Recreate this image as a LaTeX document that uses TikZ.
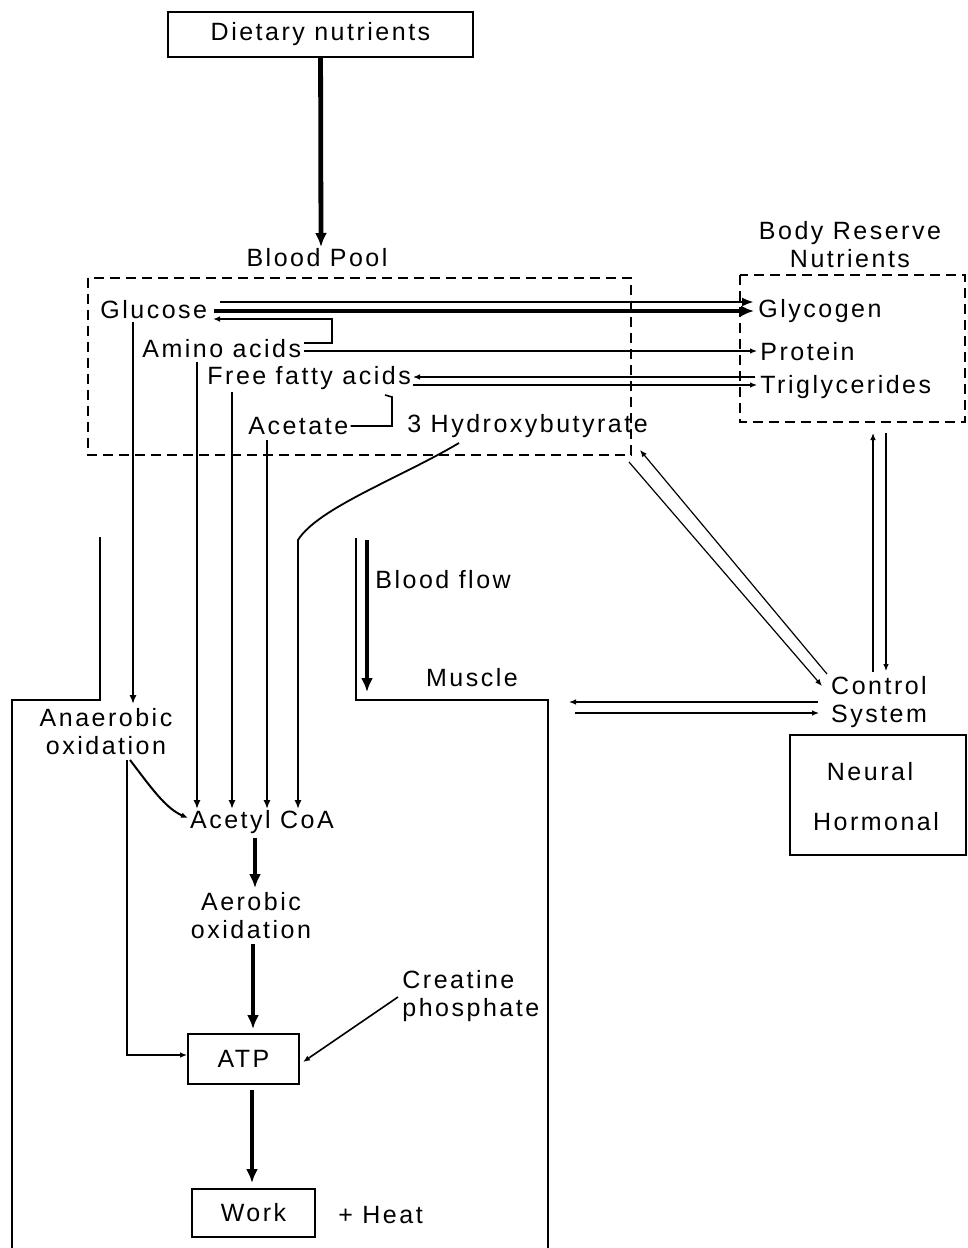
\documentclass[tikz,border=0pt]{standalone}
\usepackage{fontspec}
\setmainfont{Liberation Sans}[LetterSpace=10]
\usetikzlibrary{arrows.meta,positioning,calc}

\begin{document}
\begin{tikzpicture}[
  x=0.5pt, y=-0.5pt,
  heavy/.style={-{Latex[length=7pt,width=6pt]}, line width=2.4pt},
  feed/.style={-{Latex[length=4.5pt,width=3.6pt]}, line width=0.9pt},
  link/.style={-{Latex[length=3.5pt,width=2.8pt]}, line width=0.6pt},
  pool/.style={line width=1.1pt, dash pattern=on 5pt off 3pt},
  wall/.style={line width=0.8pt},
  panel/.style={draw, line width=0.9pt, inner sep=0pt},
  tag/.style={inner sep=1pt},
  every node/.style={font=\fontsize{12.5}{14}\selectfont}]
\useasboundingbox (0,0) rectangle (968,1248);

% ---- the labelled boxes and texts ---------------------------------------
\node[panel, minimum width=152.5pt, minimum height=22.5pt]
  (diet) at (320.5,34.5) {Dietary nutrients};
\node[tag] (poollbl) at (317,258) {Blood Pool};
\node[tag, align=center] (reslbl) at (850,245) {Body Reserve\\Nutrients};
\node[tag, anchor=west] (glucose) at ( 98,310) {Glucose};
\node[tag, anchor=west] (amino)   at (140,349) {Amino acids};
\node[tag, anchor=west] (ffa)     at (205,378) {Free fatty acids};
\node[tag, anchor=west] (acetate) at (246,426) {Acetate};
\node[tag, anchor=west] (hbut)    at (405,426) {3 Hydroxybutyrate};
\node[tag, anchor=west] (glycogen) at (756,311) {Glycogen};
\node[tag, anchor=west] (protein)  at (758,352) {Protein};
\node[tag, anchor=west] (trig)     at (758,387) {Triglycerides};
\node[tag, anchor=west] (flowlbl) at (373,580) {Blood flow};
\node[tag] (muscle) at (472,678) {Muscle};
\node[tag, align=center] (control) at (879,702) {Control\\System};
\node[panel, minimum width=88pt, minimum height=60pt]
  (ctrlbox) at (878,795) {};
\node[tag] (neural)   at (870,772) {Neural};
\node[tag] (hormonal) at (876,822) {Hormonal};
\node[tag, align=center] (anaer) at (106,732) {Anaerobic\\oxidation};
\node[tag] (acoa) at (262,822) {Acetyl CoA};
\node[tag, align=center] (aero) at (251,916) {Aerobic\\oxidation};
\node[panel, minimum width=55.5pt, minimum height=25pt]
  (atp) at (243.5,1059) {ATP};
\node[tag, anchor=west, align=left] (creat) at (400,996)
  {Creatine\\phosphate};
\node[panel, minimum width=61.5pt, minimum height=24pt]
  (work) at (253.5,1213) {Work};
\node[tag, anchor=west] (heat) at (336,1215) {+ Heat};

% ---- ends and bends of the connectors -----------------------------------
\coordinate (poolin) at (321,247);
\coordinate (gA)  at (220,302);  \coordinate (gyA) at (754,302);
\coordinate (gB)  at (214,311);  \coordinate (gyB) at (754,311);
\coordinate (amA) at (304,343);  \coordinate (amB) at (332,343);
\coordinate (amC) at (332,319);  \coordinate (glC) at (213,319);
\coordinate (amP) at (304,351);  \coordinate (prA) at (757,351);
\coordinate (tgA) at (755,377);  \coordinate (faA) at (413,377);
\coordinate (faB) at (413,385);  \coordinate (tgB) at (757,385);
\coordinate (acA) at (392,426);  \coordinate (acB) at (392,397);
\coordinate (acC) at (385,395);
\coordinate (v0a) at (133,322);  \coordinate (v0b) at (133,704);
\coordinate (v1a) at (197,362);  \coordinate (v1b) at (197,809);
\coordinate (v2a) at (232,392);  \coordinate (v2b) at (232,809);
\coordinate (v3a) at (267,440);  \coordinate (v3b) at (267,809);
\coordinate (v4a) at (459,443);  \coordinate (v4k) at (298,540);
\coordinate (v4b) at (298,809);
\coordinate (anA) at (130,760);  \coordinate (anB) at (188,818);
\coordinate (anC) at (127,760);
\coordinate (coA) at (255,838);  \coordinate (coB) at (255,888);
\coordinate (aeA) at (253,944);  \coordinate (aeB) at (253,1029);
\coordinate (crA) at (398,997);  \coordinate (crB) at (303,1062);
\coordinate (atA) at (252,1090); \coordinate (atB) at (252,1183);
\coordinate (rsA) at (873,672);  \coordinate (rsB) at (873,433);
\coordinate (rsC) at (886,433);  \coordinate (rsD) at (886,671);
\coordinate (cpA) at (827,674);  \coordinate (cpB) at (640,450);
\coordinate (cpC) at (629,462);  \coordinate (cpD) at (822,686);
\coordinate (cmA) at (818,702);  \coordinate (cmB) at (569,702);
\coordinate (cmC) at (575,713);  \coordinate (cmD) at (819,713);

% ---- the two pools ------------------------------------------------------
\draw[pool] (88,278) rectangle (631,455);
\draw[pool] (740,275) rectangle (965,422);
\draw[heavy] (diet) -- (poolin);

% ---- exchanges between blood pool and body reserve ----------------------
\draw[-{Latex[length=6pt,width=4.5pt]}, line width=1.2pt] (gA) -- (gyA);
\draw[-{Latex[length=6.5pt,width=5.5pt]}, line width=1.8pt] (gB) -- (gyB);
\draw[link, line width=0.9pt] (amA) -- (amB) -- (amC) -- (glC);
\draw[link] (amP) -- (prA);
\draw[link] (tgA) -- (faA);
\draw[link] (faB) -- (tgB);
\draw[line width=0.8pt] (acetate.east) -- (acA) -- (acB) -- (acC);

% ---- the substrates carried down to the muscle --------------------------
\draw[feed, line width=1.2pt] (v0a) -- (v0b);
\draw[feed] (v1a) -- (v1b);
\draw[feed] (v2a) -- (v2b);
\draw[feed] (v3a) -- (v3b);
\draw[feed] (v4a) .. controls (400,478) and (318,508) .. (v4k) -- (v4b);

% ---- the muscle cell ----------------------------------------------------
\draw[wall] (100,537) -- (100,700) -- (12,700) -- (12,1248);
\draw[wall] (356,538) -- (356,700) -- (548,700) -- (548,1248);
\draw[heavy] (367,540) -- (367,692);

% ---- energy path inside the muscle --------------------------------------
\draw[link, line width=1pt] (anA) .. controls (150,786) and (165,808) .. (anB);
\draw[link, line width=0.8pt] (anC) |- ([yshift=2pt]atp.west);
\draw[heavy] (coA) -- (coB);
\draw[heavy] (aeA) -- (aeB);
\draw[link, line width=0.8pt] (crA) -- (crB);
\draw[heavy] (atA) -- (atB);

% ---- the control system -------------------------------------------------
\draw[link] (rsA) -- (rsB);
\draw[link] (rsC) -- (rsD);
\draw[link] (cpA) -- (cpB);
\draw[link] (cpC) -- (cpD);
\draw[link] (cmA) -- (cmB);
\draw[link] (cmC) -- (cmD);
\end{tikzpicture}
\end{document}
